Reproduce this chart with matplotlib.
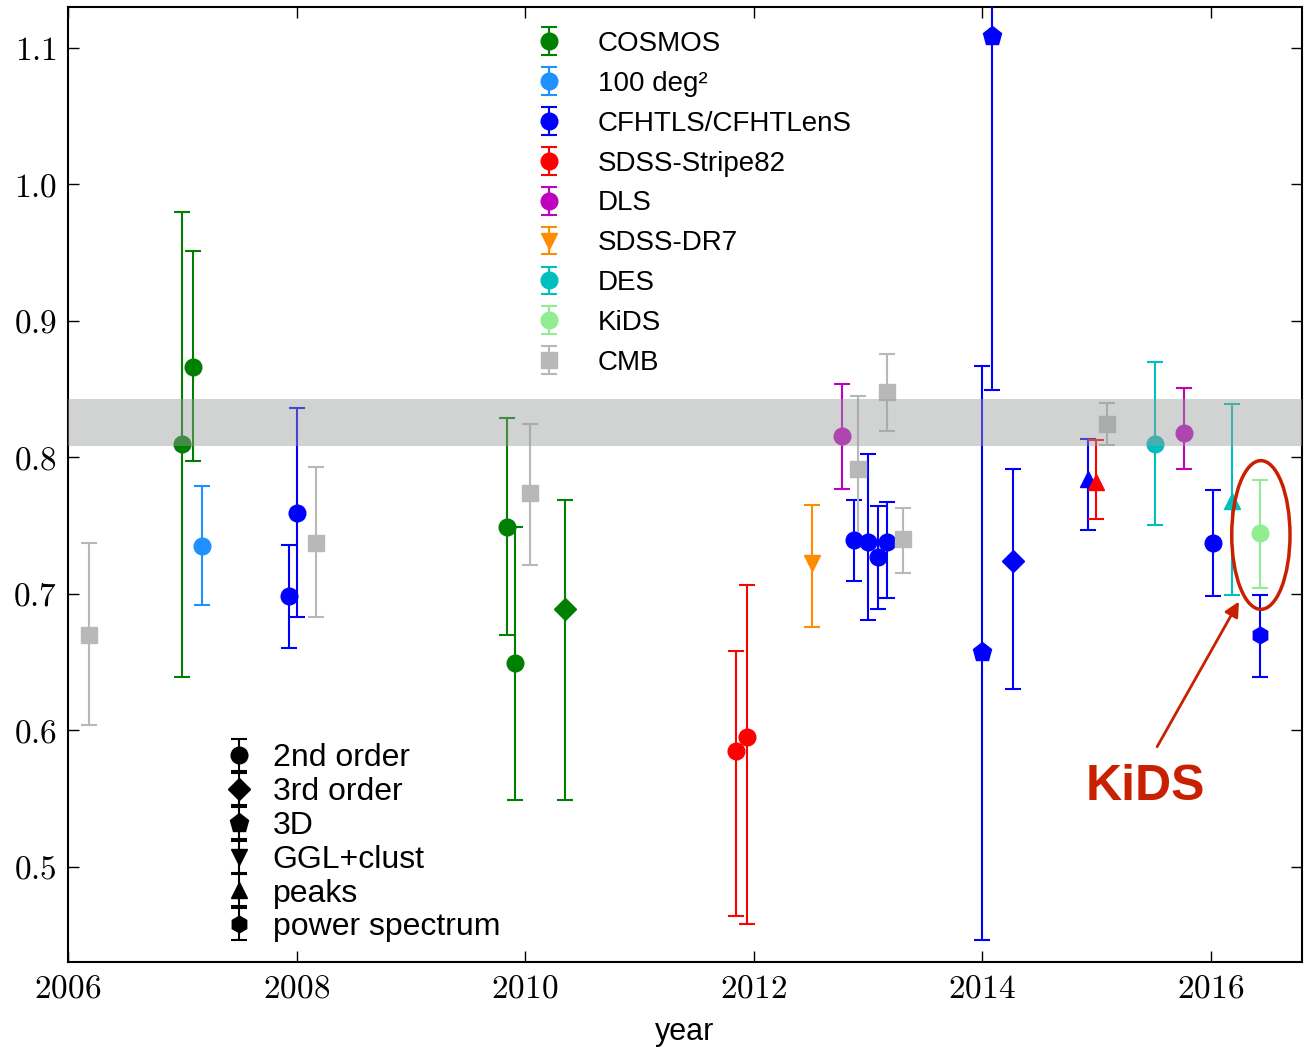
import numpy as np
import matplotlib
matplotlib.use("Agg")
import matplotlib.pyplot as plt
from matplotlib.patches import Ellipse
from matplotlib.ticker import FuncFormatter, MultipleLocator

plt.rcParams["font.family"] = ["Liberation Sans", "DejaVu Sans"]
plt.rcParams["mathtext.fontset"] = "cm"

# sigma_8 constraints: year, value, lower / upper error, method
cosmos_year = [2007.00, 2007.09, 2009.84, 2009.91, 2010.35]
cosmos_s8 = [0.810, 0.866, 0.749, 0.649, 0.689]
cosmos_lo = [0.171, 0.069, 0.079, 0.100, 0.140]
cosmos_hi = [0.170, 0.085, 0.080, 0.100, 0.080]
cosmos_kind = ["2nd", "2nd", "2nd", "2nd", "3rd"]

deg100_year = [2007.17]
deg100_s8 = [0.735]
deg100_lo = [0.043]
deg100_hi = [0.044]
deg100_kind = ["2nd"]

cfht_year = [2007.93, 2008.00, 2012.88, 2013.00, 2013.09, 2013.17,
             2014.00, 2014.09, 2014.27, 2014.93, 2016.02, 2016.43]
cfht_s8 = [0.698, 0.759, 0.739, 0.7375, 0.7265, 0.7375,
           0.657, 1.109, 0.724, 0.784, 0.737, 0.670]
cfht_lo = [0.038, 0.076, 0.030, 0.0565, 0.038, 0.0405,
           0.211, 0.260, 0.094, 0.037, 0.039, 0.031]
cfht_hi = [0.038, 0.077, 0.030, 0.065, 0.038, 0.030,
           0.210, 0.260, 0.067, 0.029, 0.039, 0.029]
cfht_kind = ["2nd", "2nd", "2nd", "2nd", "2nd", "2nd",
             "3D", "3D", "3rd", "peaks", "2nd", "pspec"]

s82_year = [2011.85, 2011.94, 2015.00]
s82_s8 = [0.585, 0.595, 0.7816]
s82_lo = [0.121, 0.137, 0.027]
s82_hi = [0.073, 0.111, 0.031]
s82_kind = ["2nd", "2nd", "peaks"]

dls_year = [2012.77, 2015.77]
dls_s8 = [0.8155, 0.8177]
dls_lo = [0.039, 0.026]
dls_hi = [0.0385, 0.033]
dls_kind = ["2nd", "2nd"]

dr7_year = [2012.51]
dr7_s8 = [0.7228]
dr7_lo = [0.047]
dr7_hi = [0.042]
dr7_kind = ["ggl"]

des_year = [2015.51, 2016.19]
des_s8 = [0.810, 0.768]
des_lo = [0.060, 0.069]
des_hi = [0.060, 0.071]
des_kind = ["2nd", "peaks"]

kids_year = [2016.43]
kids_s8 = [0.7444]
kids_lo = [0.040]
kids_hi = [0.039]
kids_kind = ["2nd"]

cmb_year = [2006.18, 2008.17, 2010.04, 2012.91, 2013.17, 2013.31, 2015.09]
cmb_s8 = [0.670, 0.737, 0.7735, 0.791, 0.848, 0.740, 0.8246]
cmb_lo = [0.066, 0.054, 0.0525, 0.052, 0.029, 0.025, 0.016]
cmb_hi = [0.067, 0.056, 0.051, 0.054, 0.028, 0.023, 0.0155]
cmb_kind = ["cmb"] * 7

# Planck band
band_lo, band_hi = 0.808, 0.843

surveys = [
    ("COSMOS", "green", cosmos_year, cosmos_s8, cosmos_lo, cosmos_hi, cosmos_kind),
    ("100 deg²", "dodgerblue", deg100_year, deg100_s8, deg100_lo, deg100_hi, deg100_kind),
    ("CFHTLS/CFHTLenS", "blue", cfht_year, cfht_s8, cfht_lo, cfht_hi, cfht_kind),
    ("SDSS-Stripe82", "red", s82_year, s82_s8, s82_lo, s82_hi, s82_kind),
    ("DLS", "m", dls_year, dls_s8, dls_lo, dls_hi, dls_kind),
    ("SDSS-DR7", "darkorange", dr7_year, dr7_s8, dr7_lo, dr7_hi, dr7_kind),
    ("DES", "c", des_year, des_s8, des_lo, des_hi, des_kind),
    ("KiDS", "lightgreen", kids_year, kids_s8, kids_lo, kids_hi, kids_kind),
    ("CMB", "0.72", cmb_year, cmb_s8, cmb_lo, cmb_hi, cmb_kind),
]

methods = [("2nd", "2nd order"), ("3rd", "3rd order"), ("3D", "3D"),
           ("ggl", "GGL+clust"), ("peaks", "peaks"), ("pspec", "power spectrum")]
MARKER = {"2nd": "o", "3rd": "D", "3D": "p", "ggl": "v", "peaks": "^",
          "pspec": "h", "cmb": "s"}
MSIZE = {"o": 12, "D": 11, "p": 14, "v": 12, "^": 12, "h": 12, "s": 11}

EB = dict(elinewidth=1.5, capthick=1.5, capsize=6, linestyle="none")

fig = plt.figure(figsize=(13.08, 10.47), dpi=100)
ax = fig.add_axes([68 / 1308, 1 - 962 / 1047, 1234 / 1308, 955 / 1047])

for name, col, xs, ys, lo, hi, kinds in surveys:
    for x, y, l, h, k in zip(xs, ys, lo, hi, kinds):
        m = MARKER[k]
        ax.errorbar([x], [y], yerr=[[l], [h]], marker=m, ms=MSIZE[m],
                    color=col, mec=col, zorder=3, **EB)

ax.axhspan(band_lo, band_hi, color=(0.6, 0.61, 0.61), alpha=0.45, lw=0, zorder=5)

# legend proxies
sv_handles, sv_labels = [], []
for name, col, *_ in surveys:
    m = "s" if name == "CMB" else ("v" if name == "SDSS-DR7" else "o")
    h = ax.errorbar([np.nan], [np.nan], yerr=[[np.nan], [np.nan]], marker=m,
                    ms=MSIZE[m], color=col, mec=col, **EB)
    sv_handles.append(h)
    sv_labels.append(name)

mt_handles, mt_labels = [], []
for k, lab in methods:
    m = MARKER[k]
    h = ax.errorbar([np.nan], [np.nan], yerr=[[np.nan], [np.nan]], marker=m,
                    ms=MSIZE[m], color="black", **EB)
    mt_handles.append(h)
    mt_labels.append(lab)

leg1 = ax.legend(sv_handles, sv_labels, loc="upper left",
                 bbox_to_anchor=(0.383, 0.975), frameon=False, numpoints=1,
                 fontsize=20, handlelength=0.6, handletextpad=1.45,
                 labelspacing=0.5, borderpad=0, borderaxespad=0)
ax.add_artist(leg1)
ax.legend(mt_handles, mt_labels, loc="upper left",
          bbox_to_anchor=(0.131, 0.229), frameon=False, numpoints=1,
          fontsize=23, handlelength=0.6, handletextpad=0.75,
          labelspacing=0.12, borderpad=0, borderaxespad=0)

kids_red = "#c82000"
ax.add_patch(Ellipse((2016.44, 0.743), 0.51, 0.109, fill=False,
                     ec=kids_red, lw=2.5, zorder=6))
ax.annotate("", xy=(2016.26, 0.696), xytext=(2015.52, 0.586),
            arrowprops=dict(arrowstyle="-|>", color=kids_red, lw=2,
                            mutation_scale=22), zorder=6)
ax.text(2015.43, 0.558, "KiDS", color=kids_red, fontsize=36,
        fontweight="bold", ha="center", va="center")

ax.set_xlim(2006, 2016.8)
ax.set_ylim(0.43, 1.13)
ax.xaxis.set_major_locator(MultipleLocator(2))
ax.yaxis.set_major_locator(MultipleLocator(0.1))
ax.xaxis.set_major_formatter(FuncFormatter(lambda v, p: r"$%d$" % round(v)))
ax.yaxis.set_major_formatter(FuncFormatter(lambda v, p: r"$%.1f$" % v))
ax.tick_params(direction="in", top=True, right=True, length=8, width=1,
               labelsize=24, pad=8)
for s in ax.spines.values():
    s.set_linewidth(1.5)
ax.set_xlabel("year", fontsize=22, labelpad=9)

fig.savefig("out.png", dpi=100)
